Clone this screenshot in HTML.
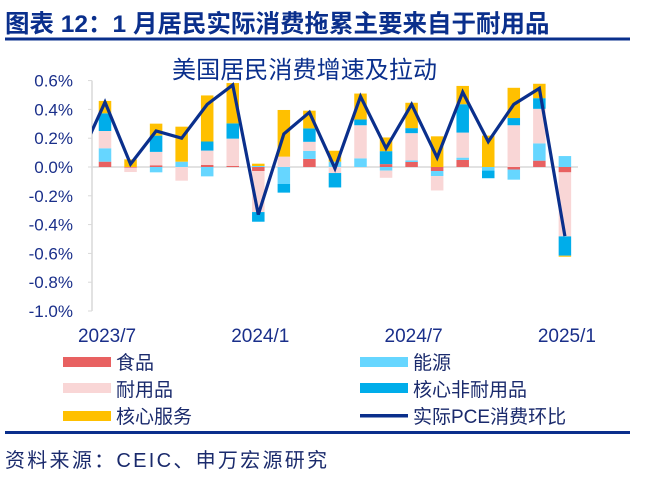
<!DOCTYPE html>
<html><head><meta charset="utf-8"><style>
body{margin:0;background:#fff;width:645px;height:477px;overflow:hidden;font-family:"Liberation Sans","Noto Sans CJK SC",sans-serif;}
</style></head><body>
<svg width="645" height="477" xmlns="http://www.w3.org/2000/svg" font-family="Liberation Sans, Noto Sans CJK SC, sans-serif">
<text x="5" y="32" font-size="24.5" font-weight="bold" fill="#0a2f8c">图表 12：1 月居民实际消费拖累主要来自于耐用品</text>
<rect x="5" y="37.5" width="625" height="3" fill="#0a2f8c"/>
<text x="172" y="78" font-size="24" fill="#0a2f8c" textLength="265">美国居民消费增速及拉动</text>
<g id="axes"></g>
<g id="bars"></g>
<g id="line"></g>
<g font-size="19" fill="#1a2a6c">
<rect x="63" y="357" width="48" height="10" fill="#e86161"/><text x="116" y="369">食品</text>
<rect x="63" y="383" width="48" height="10" fill="#f9d6d6"/><text x="116" y="396">耐用品</text>
<rect x="63" y="411" width="48" height="10" fill="#ffc000"/><text x="116" y="423">核心服务</text>
<rect x="360" y="357" width="48" height="10" fill="#66d6ff"/><text x="413" y="369">能源</text>
<rect x="360" y="383" width="48" height="10" fill="#00adea"/><text x="413" y="396">核心非耐用品</text>
<rect x="360" y="414" width="48" height="3.5" fill="#0a2f8c"/><text x="413" y="423">实际PCE消费环比</text>
</g>
<rect x="5" y="431" width="625" height="3" fill="#0a2f8c"/>
<text x="5" y="467" font-size="20" fill="#1a2a6c" textLength="322">资料来源：CEIC、申万宏源研究</text>
</svg>
<script>
const months=["2023/7","2023/8","2023/9","2023/10","2023/11","2023/12","2024/1","2024/2","2024/3","2024/4","2024/5","2024/6","2024/7","2024/8","2024/9","2024/10","2024/11","2024/12","2025/1"];
const food=[0.037,-0.005,0.012,0,0.014,0.007,-0.028,0,0.056,0,0,0.02,0.035,-0.028,0.049,0,-0.018,0.044,-0.037];
const energy=[0.093,0,-0.037,0.037,-0.065,0,0.007,-0.118,0.056,0.037,0.06,-0.025,0.01,-0.035,0.016,-0.025,-0.07,0.12,0.076];
const durable=[0.12,-0.03,0.093,-0.095,0.1,0.19,-0.285,0.072,0.063,-0.042,0.23,-0.05,0.19,-0.1,0.174,0,0.29,0.24,-0.445];
const coreNondurable=[0.123,0,0.113,0,0.063,0.106,-0.067,-0.06,0.093,-0.1,0.04,0.09,0.035,0,0.197,-0.053,0.05,0.074,-0.134];
const coreServices=[0.086,0.053,0.083,0.243,0.32,0.28,0.016,0.324,0.123,0.076,0.18,0.095,0.176,0.213,0.127,0.218,0.21,0.1,-0.007];
const pce=[0.45,0.02,0.25,0.20,0.435,0.57,-0.33,0.23,0.38,-0.01,0.49,0.13,0.435,0.065,0.52,0.176,0.435,0.546,-0.48];
const pcePrev=0.06;
const yTicks=[0.6,0.4,0.2,0,-0.2,-0.4,-0.6,-0.8,-1.0];
const xLabels=["2023/7","2024/1","2024/7","2025/1"];
const NS="http://www.w3.org/2000/svg";
const y0=167,pxPer=144,x0=105,step=25.55,bw=12.5;
const Y=v=>y0-v*pxPer, X=i=>x0+i*step;
function mk(tag,attrs,parent){const e=document.createElementNS(NS,tag);for(const k in attrs)e.setAttribute(k,attrs[k]);parent.appendChild(e);return e;}
const axes=document.getElementById('axes');
const ax=mk('line',{x1:92,x2:92,y1:Y(0.6),y2:Y(-1.0),stroke:'#d9d9d9','stroke-width':1.5},axes);


yTicks.forEach(t=>{
 const tk=mk('line',{x1:88,x2:92,y1:Y(t),y2:Y(t),stroke:'#d9d9d9'},axes);
 
 
 const tx=mk('text',{x:73,y:Y(t)+6,'font-size':17,'text-anchor':'end',fill:'#1a2f8a'},axes);
 tx.textContent=t.toFixed(1)+'%';
 
 
});
const zl=mk('line',{x1:92,x2:578,y1:Y(0),y2:Y(0),stroke:'#d9d9d9','stroke-width':1.5},axes);


xLabels.forEach(l=>{
 const i=months.indexOf(l);
 const tx=mk('text',{x:X(i)+2,y:342,'font-size':19,'text-anchor':'middle',fill:'#1a2f8a'},axes);
 tx.textContent=l;
 
 
});
const series=[[food,'#e86161','food'],[energy,'#66d6ff','energy'],[durable,'#f9d6d6','durable'],[coreNondurable,'#00adea','core-nondurable'],[coreServices,'#ffc000','core-services']];
const bars=document.getElementById('bars');
months.forEach((m,i)=>{
 let pos=0,neg=0;
 series.forEach(([arr,col,nm])=>{
  const v=arr[i]; if(!v) return;
  let a,b;
  if(v>0){a=pos;b=pos+v;pos=b;}else{a=neg;b=neg+v;neg=b;}
  const r=mk('rect',{x:X(i)-bw/2,y:Math.min(Y(a),Y(b)),width:bw,height:Math.abs(Y(a)-Y(b)),fill:col},bars);
  
  
 });
});
const lg=document.getElementById('line');
mk('clipPath',{id:'cp'},lg).appendChild(document.createElementNS(NS,'rect'));
const cr=lg.querySelector('clipPath rect');cr.setAttribute('x',92);cr.setAttribute('y',0);cr.setAttribute('width',600);cr.setAttribute('height',477);
let d='M'+X(-1)+','+Y(pcePrev);
pce.forEach((v,i)=>{d+=' L'+X(i)+','+Y(v);});
const pl=mk('path',{d:d,fill:'none',stroke:'#0a2f8c','stroke-width':3.2,'stroke-linejoin':'miter','clip-path':'url(#cp)'},lg);


</script>
</body></html>
